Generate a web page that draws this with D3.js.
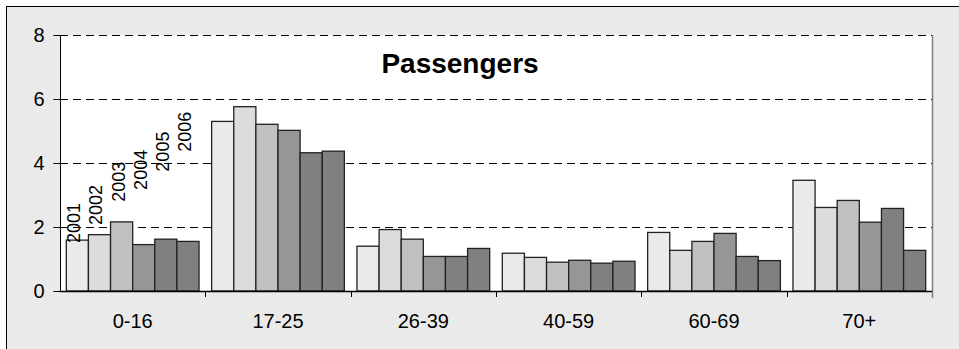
<!DOCTYPE html>
<html>
<head>
<meta charset="utf-8">
<script src="https://cdn.jsdelivr.net/npm/d3@7"></script>
<style>
	body { margin: 0; background: #fff; }
	text { font-family: Arial, 'Liberation Sans', sans-serif; }
</style>
</head>
<body>
<div id="chart"></div>
<script>
var ageGroups = ['0-16', '17-25', '26-39', '40-59', '60-69', '70+'];
var years = ['2001', '2002', '2003', '2004', '2005', '2006'];

// one array per year, values per age group
var y2001 = [1.59, 5.30, 1.40, 1.18, 1.83, 3.46];
var y2002 = [1.76, 5.76, 1.92, 1.05, 1.27, 2.61];
var y2003 = [2.16, 5.21, 1.62, 0.90, 1.55, 2.83];
var y2004 = [1.45, 5.02, 1.08, 0.96, 1.80, 2.15];
var y2005 = [1.62, 4.32, 1.08, 0.87, 1.08, 2.58];
var y2006 = [1.55, 4.37, 1.33, 0.93, 0.95, 1.27];

var yTicks = [0, 2, 4, 6, 8];
// level (in chart units) where each series name label starts, first group only
var labelLevel = [1.50, 2.06, 2.79, 3.16, 3.73, 4.35];

var series = [y2001, y2002, y2003, y2004, y2005, y2006];

function Draw() {
	var width = 959, height = 349;
	var margin = { top: 35, right: 27, bottom: 58, left: 60 };
	var color = d3.scaleOrdinal()
		.domain(years)
		.range(['#eaeaea', '#dcdcdc', '#c0c0c0', '#969696', '#808080', '#808080']);

	var svg = d3
		.select('#chart')
		.append('svg')
		.attr('width', width)
		.attr('height', height);

	// chart area
	svg.append('rect')
		.attr('x', 6.5)
		.attr('y', 6.5)
		.attr('width', width)
		.attr('height', height)
		.attr('fill', '#eaeaea')
		.attr('stroke', '#000');

	var x0 = d3
		.scaleBand()
		.domain(ageGroups)
		.range([margin.left, width - margin.right]);

	var bw = x0.bandwidth();
	var gap = bw * 0.57 / 6.57;
	var x1 = d3
		.scaleBand()
		.domain(years)
		.range([gap / 2, bw - gap / 2]);

	var y = d3
		.scaleLinear()
		.domain([0, 8])
		.range([height - margin.bottom, margin.top]);

	var plotW = width - margin.right - margin.left;

	svg.append('rect')
		.attr('x', margin.left)
		.attr('y', margin.top)
		.attr('width', plotW)
		.attr('height', y(0) - margin.top)
		.attr('fill', '#fff');

	// right border of plot
	svg.append('line')
		.attr('x1', width - margin.right + 0.5)
		.attr('x2', width - margin.right + 0.5)
		.attr('y1', margin.top)
		.attr('y2', y(0) + 7)
		.attr('stroke', '#808080')
		.attr('stroke-width', 1.5);

	// gridlines
	svg.append('g')
		.selectAll('line')
		.data(yTicks.filter(function(d) { return d > 0; }))
		.enter()
		.append('line')
		.attr('x1', margin.left)
		.attr('x2', width - margin.right)
		.attr('y1', function(d) { return Math.round(y(d)) + 0.5; })
		.attr('y2', function(d) { return Math.round(y(d)) + 0.5; })
		.attr('stroke', '#000')
		.attr('stroke-dasharray', '8,5');

	// bars
	var rows = [];
	ageGroups.forEach(function(g, gi) {
		years.forEach(function(yr, si) {
			rows.push({ group: g, year: yr, value: series[si][gi] });
		});
	});

	svg.append('g')
		.selectAll('rect')
		.data(rows)
		.enter()
		.append('rect')
		.attr('x', function(d) { return x0(d.group) + x1(d.year); })
		.attr('y', function(d) { return y(d.value); })
		.attr('width', x1.bandwidth())
		.attr('height', function(d) { return y(0) - y(d.value); })
		.attr('fill', function(d) { return color(d.year); })
		.attr('stroke', '#222')
		.attr('stroke-width', 1.3);

	// series name labels over the first group
	svg.append('g')
		.selectAll('text')
		.data(years)
		.enter()
		.append('text')
		.attr('transform', function(d, i) {
			var tx = x0(ageGroups[0]) + x1(d) + x1.bandwidth() / 2 + 3;
			return 'translate(' + tx + ',' + y(labelLevel[i]) + ') rotate(-90)';
		})
		.attr('font-size', 18)
		.attr('fill', '#000')
		.text(function(d) { return d; });

	// y axis
	var yAxis = d3.axisLeft(y)
		.tickValues(yTicks)
		.tickSize(7)
		.tickPadding(9)
		.tickFormat(d3.format('d'));
	var gy = svg.append('g')
		.attr('transform', 'translate(' + (margin.left + 0.5) + ',0)')
		.call(yAxis);
	gy.select('.domain').attr('d', 'M0,' + margin.top + 'V' + y(0)).attr('stroke', '#000');
	gy.selectAll('text').attr('font-size', 20).attr('fill', '#000').attr('font-family', 'Arial, Liberation Sans, sans-serif');

	// x axis with ticks between categories
	svg.append('line')
		.attr('x1', margin.left)
		.attr('x2', width - margin.right)
		.attr('y1', y(0) + 0.5)
		.attr('y2', y(0) + 0.5)
		.attr('stroke', '#000')
		.attr('stroke-width', 1.5);

	svg.append('g')
		.selectAll('line')
		.data(ageGroups.slice(1))
		.enter()
		.append('line')
		.attr('x1', function(d) { return Math.round(x0(d)) + 0.5; })
		.attr('x2', function(d) { return Math.round(x0(d)) + 0.5; })
		.attr('y1', y(0))
		.attr('y2', y(0) + 6)
		.attr('stroke', '#000');

	svg.append('g')
		.selectAll('text')
		.data(ageGroups)
		.enter()
		.append('text')
		.attr('x', function(d) { return x0(d) + bw / 2; })
		.attr('y', y(0) + 37)
		.attr('text-anchor', 'middle')
		.attr('font-size', 20)
		.attr('fill', '#000')
		.text(function(d) { return d; });

	// title
	svg.append('text')
		.attr('x', 460)
		.attr('y', 73)
		.attr('text-anchor', 'middle')
		.attr('font-size', 28)
		.attr('font-weight', 'bold')
		.attr('fill', '#000')
		.text('Passengers');
}

Draw();
</script>
</body>
</html>
